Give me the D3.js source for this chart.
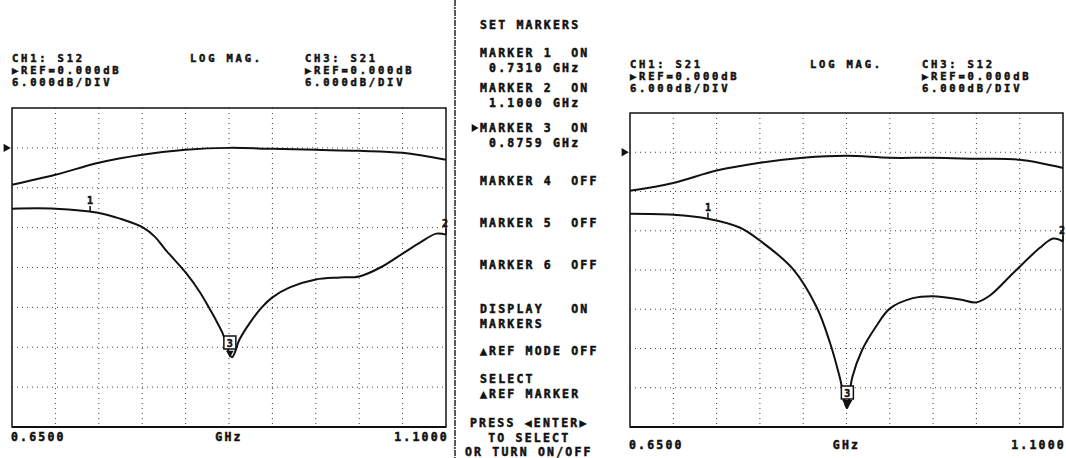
<!DOCTYPE html>
<html>
<head>
<meta charset="utf-8" />
<style>
    body { margin: 0; background: #fff; }
    svg { display: block; }
    text {
        font-family: "DejaVu Sans Mono", monospace;
        font-size: 11.5px;
        font-weight: bold;
        letter-spacing: 2.2px;
        fill: #111;
        stroke: #111;
        stroke-width: 0.5px;
    }
    text.head {
        font-size: 10.5px;
        letter-spacing: 2.8px;
    }
    .grid line { stroke: #444; stroke-width: 1; stroke-dasharray: 1,4; }
    .trace { fill: none; stroke: #111; stroke-width: 2; }
</style>
</head>
<body>
<div id="chart"></div>
<script src="https://cdnjs.cloudflare.com/ajax/libs/d3/7.8.5/d3.min.js"></script>
<script>
// sweep 0.65 - 1.10 GHz, 6 dB/div, ref 0 dB
var startGHz = 0.65;
var stopGHz = 1.10;
var dbPerDiv = 6;

// upper traces, read at each x division
var divFreq = [0.650, 0.695, 0.740, 0.785, 0.830, 0.875, 0.920, 0.965, 1.010, 1.055, 1.100];
var leftUpperDb = [-5.55, -4.05, -2.25, -1.05, -0.3, 0.0, -0.15, -0.3, -0.45, -0.75, -1.8];
var rightUpperDb = [-5.9, -4.7, -2.8, -1.6, -0.85, -0.55, -0.85, -0.85, -1.0, -1.15, -2.4];

// lower traces
var leftLowerFreq = [0.650, 0.695, 0.739, 0.762, 0.786, 0.798, 0.809, 0.830, 0.845, 0.861, 0.868, 0.878, 0.886, 0.897,
    0.909, 0.920, 0.938, 0.965, 0.990, 1.010, 1.032, 1.055, 1.073, 1.090, 1.100];
var leftLowerDb = [-9.15, -9.15, -9.75, -10.65, -12.0, -13.35, -15.3, -18.75, -21.75, -25.8, -27.75, -31.5, -28.8, -26.25,
    -24.0, -22.5, -21.0, -19.8, -19.5, -19.35, -18.0, -15.9, -14.25, -12.9, -13.05];
var rightLowerFreq = [0.650, 0.695, 0.731, 0.764, 0.785, 0.819, 0.844, 0.858, 0.868, 0.8755, 0.881, 0.891,
    0.905, 0.920, 0.944, 0.965, 0.993, 1.010, 1.024, 1.048, 1.076, 1.090, 1.100];
var rightLowerDb = [-9.4, -9.55, -10.15, -11.5, -13.5, -17.8, -23.7, -29.2, -34.4, -39.1, -34.4, -30.3,
    -26.8, -23.9, -22.3, -22.0, -22.5, -22.95, -21.9, -18.5, -14.6, -13.2, -13.65];

// markers
var markerFreq = [0.7310, 1.1000, 0.8759];
var markerLabel = ['1', '2', '3'];
var activeMarker = 2;

// header / axis texts
var leftHeader = ['CH1: S12', 'LOG MAG.', 'CH3: S21'];
var rightHeader = ['CH1: S21', 'LOG MAG.', 'CH3: S12'];
var refLines = ['\u25B6REF=0.000dB', '6.000dB/DIV'];
var axisLabels = ['0.6500', 'GHz', '1.1000'];

var menuItems = [
    ['SET MARKERS'],
    ['MARKER 1  ON', ' 0.7310 GHz'],
    ['MARKER 2  ON', ' 1.1000 GHz'],
    ['MARKER 3  ON', ' 0.8759 GHz'],
    ['MARKER 4  OFF'],
    ['MARKER 5  OFF'],
    ['MARKER 6  OFF'],
    ['DISPLAY   ON', 'MARKERS'],
    ['\u25B2REF MODE OFF'],
    ['SELECT', '\u25B2REF MARKER'],
    ['PRESS \u25C0ENTER\u25B6', '  TO SELECT', 'OR TURN ON/OFF']
];

var width = 1066, height = 458;

var svg = d3.select('#chart').append('svg')
    .attr('width', width)
    .attr('height', height);

// separator between the two screens
svg.append('line')
    .attr('x1', 455).attr('x2', 455)
    .attr('y1', 0).attr('y2', height)
    .attr('stroke', '#222')
    .attr('stroke-width', 1.5)
    .attr('stroke-dasharray', '6,1,2,1');

function drawPanel(p) {
    var x = d3.scaleLinear().domain([startGHz, stopGHz]).range([p.left, p.left + p.w]);
    // top of screen is one division above ref
    var y = d3.scaleLinear().domain([dbPerDiv, -7 * dbPerDiv]).range([p.top, p.top + p.h]);

    var g = svg.append('g');

    var xt = d3.range(0, 11).map(function(i) { return startGHz + i * (stopGHz - startGHz) / 10; });
    var yt = d3.range(0, 9).map(function(i) { return dbPerDiv - i * dbPerDiv; });

    var grid = g.append('g').attr('class', 'grid');
    grid.selectAll('.vx').data(xt.slice(1, -1)).enter().append('line')
        .attr('x1', x).attr('x2', x)
        .attr('y1', p.top).attr('y2', p.top + p.h);
    grid.selectAll('.hy').data(yt.slice(1, -1)).enter().append('line')
        .attr('x1', p.left).attr('x2', p.left + p.w)
        .attr('y1', y).attr('y2', y);

    g.append('rect')
        .attr('x', p.left).attr('y', p.top)
        .attr('width', p.w).attr('height', p.h)
        .attr('fill', 'none')
        .attr('stroke', '#111')
        .attr('stroke-width', 1.5);
    g.append('line')
        .attr('x1', p.left).attr('x2', p.left + p.w)
        .attr('y1', p.top + p.h).attr('y2', p.top + p.h)
        .attr('stroke', '#111').attr('stroke-width', 2);

    var line = d3.line()
        .x(function(d) { return x(d[0]); })
        .y(function(d) { return y(d[1]); })
        .curve(d3.curveCatmullRom.alpha(0.5));

    g.append('path').attr('class', 'trace')
        .attr('d', line(d3.zip(divFreq, p.upper)));
    g.append('path').attr('class', 'trace')
        .attr('d', line(d3.zip(p.lowerFreq, p.lower)));

    // ref pointer
    g.append('path')
        .attr('d', d3.symbol().type(d3.symbolTriangle).size(30))
        .attr('transform', 'translate(' + (p.left - 6) + ',' + y(0) + ') rotate(90)')
        .attr('fill', '#111');

    // markers on lower trace
    var interp = d3.scaleLinear().domain(p.lowerFreq).range(p.lower);
    markerFreq.forEach(function(f, i) {
        var mx = x(f), my = y(interp(f));
        if (i === activeMarker) {
            var by = p.activeBoxY;
            g.append('rect')
                .attr('x', mx - 6).attr('y', by)
                .attr('width', 12).attr('height', 13)
                .attr('fill', '#fff').attr('stroke', '#111').attr('stroke-width', 1.5);
            g.append('text')
                .attr('x', mx).attr('y', by + 11)
                .attr('text-anchor', 'middle')
                .style('font-size', '10px').style('letter-spacing', '0px')
                .text(markerLabel[i]);
            g.append('path')
                .attr('d', d3.symbol().type(d3.symbolTriangle).size(p.tipSize))
                .attr('transform', 'translate(' + mx + ',' + (by + 17) + ') rotate(180)')
                .attr('fill', '#111');
        } else {
            g.append('line')
                .attr('x1', mx).attr('x2', mx)
                .attr('y1', my - 6).attr('y2', my)
                .attr('stroke', '#111').attr('stroke-width', 1.5);
            g.append('text')
                .attr('x', mx - (i === 1 ? 1 : 0)).attr('y', my - 8)
                .attr('text-anchor', 'middle')
                .style('font-size', '10px').style('letter-spacing', '0px')
                .text(markerLabel[i]);
        }
    });

    // header
    var hy = p.headY;
    function head(tx, ty, t) {
        g.append('text').attr('class', 'head').attr('x', tx).attr('y', ty).text(t);
    }
    head(p.left, hy, p.header[0]);
    head(p.left + p.magX, hy, p.header[1]);
    head(p.left + p.ch3X, hy, p.header[2]);
    refLines.forEach(function(t, i) {
        head(p.left, hy + (i + 1) * p.lineH, t);
        head(p.left + p.ch3X, hy + (i + 1) * p.lineH, t);
    });

    // frequency labels
    var ly = p.top + p.h + p.labelDy;
    g.append('text').attr('x', x(startGHz) - 1).attr('y', ly).text(axisLabels[0]);
    g.append('text').attr('x', x((startGHz + stopGHz) / 2)).attr('y', ly)
        .attr('text-anchor', 'middle').text(axisLabels[1]);
    g.append('text').attr('x', x(stopGHz) + 3).attr('y', ly)
        .attr('text-anchor', 'end').text(axisLabels[2]);
}

drawPanel({
    left: 12, top: 108, w: 434, h: 319,
    upper: leftUpperDb, lowerFreq: leftLowerFreq, lower: leftLowerDb,
    activeBoxY: 336, tipSize: 25,
    header: leftHeader, headY: 62, lineH: 12, magX: 178, ch3X: 293,
    labelDy: 14
});

drawPanel({
    left: 630, top: 113, w: 433, h: 314,
    upper: rightUpperDb, lowerFreq: rightLowerFreq, lower: rightLowerDb,
    activeBoxY: 386, tipSize: 45,
    header: rightHeader, headY: 67.5, lineH: 12, magX: 180, ch3X: 292,
    labelDy: 22
});

// soft-key menu
var menuY = [29, 57, 92, 132, 185, 227, 269, 313, 355, 383, 427];
var menu = svg.append('g');
menuItems.forEach(function(item, i) {
    item.forEach(function(t, j) {
        var x0 = 480;
        if (i === menuItems.length - 1) x0 = 470 - (j === 2 ? 5 : 0);
        menu.append('text')
            .attr('x', x0)
            .attr('y', menuY[i] + j * 14.5)
            .attr('xml:space', 'preserve')
            .style('white-space', 'pre')
            .text(t);
    });
});
// active marker pointer
menu.append('path')
    .attr('d', d3.symbol().type(d3.symbolTriangle).size(28))
    .attr('transform', 'translate(474,128) rotate(90)')
    .attr('fill', '#111');
</script>
</body>
</html>
